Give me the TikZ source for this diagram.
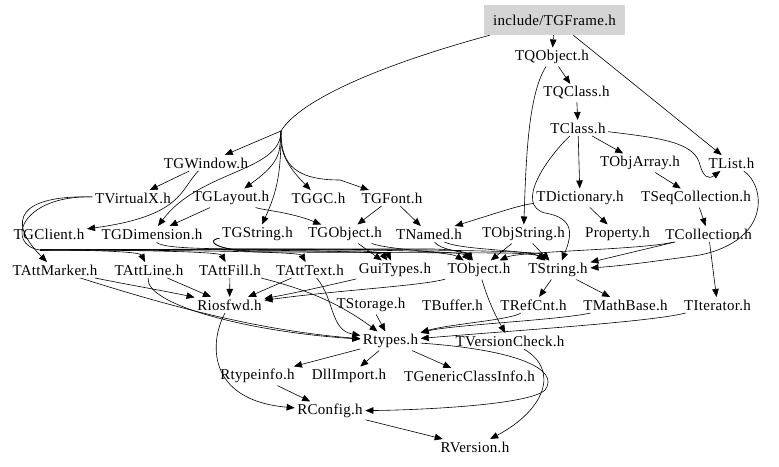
\documentclass[tikz,border=0pt]{standalone}
\usepackage{fontspec}
\setmainfont[LetterSpace=2]{Liberation Serif}
\usetikzlibrary{arrows.meta}

\tikzset{
  hdr/.style={inner sep=2.5pt, font=\fontsize{15}{17}\selectfont},
  mainhdr/.style={hdr, fill=black!17, minimum width=141pt, minimum height=30pt},
  dep/.style={-{Triangle[length=8pt,width=6.5pt]}, line width=0.6pt},
  trunk/.style={line width=0.6pt}
}

\begin{document}
\begin{tikzpicture}[x=1pt, y=-1pt]
\useasboundingbox (0,0) rectangle (779,466);

% Top of the graph
\node[mainhdr] (frame) at (554.5,20) {include/TGFrame.h};
\node[hdr] (qobject) at (552,57) {TQObject.h};
\node[hdr] (qclass) at (576.5,93) {TQClass.h};
\node[hdr] (tclass) at (578,128) {TClass.h};

% Second layer
\node[hdr] (gwindow) at (206,163) {TGWindow.h};
\node[hdr] (objarray) at (640,163) {TObjArray.h};
\node[hdr] (list) at (731.5,163) {TList.h};

\node[hdr] (virtualx) at (133,198) {TVirtualX.h};
\node[hdr] (glayout) at (231,198) {TGLayout.h};
\node[hdr] (ggc) at (318.5,198) {TGGC.h};
\node[hdr] (gfont) at (392,198) {TGFont.h};
\node[hdr] (dictionary) at (580,198) {TDictionary.h};
\node[hdr] (seqcollection) at (696,198) {TSeqCollection.h};

\node[hdr] (gclient) at (49,234) {TGClient.h};
\node[hdr] (gdimension) at (152,234) {TGDimension.h};
\node[hdr] (gstring) at (257.5,234) {TGString.h};
\node[hdr] (gobject) at (345,234) {TGObject.h};
\node[hdr] (named) at (429,234) {TNamed.h};
\node[hdr] (objstring) at (523.5,234) {TObjString.h};
\node[hdr] (property) at (617.5,234) {Property.h};
\node[hdr] (collection) at (708.5,234) {TCollection.h};

% Base classes
\node[hdr] (attmarker) at (55,270) {TAttMarker.h};
\node[hdr] (attline) at (149,270) {TAttLine.h};
\node[hdr] (attfill) at (230,270) {TAttFill.h};
\node[hdr] (atttext) at (310,270) {TAttText.h};
\node[hdr] (guitypes) at (395,270) {GuiTypes.h};
\node[hdr] (object) at (479,270) {TObject.h};
\node[hdr] (string) at (558,270) {TString.h};

\node[hdr] (riosfwd) at (229.5,305) {Riosfwd.h};
\node[hdr] (storage) at (371,305) {TStorage.h};
\node[hdr] (buffer) at (452.5,305) {TBuffer.h};
\node[hdr] (refcnt) at (533.5,305) {TRefCnt.h};
\node[hdr] (mathbase) at (625.5,305) {TMathBase.h};
\node[hdr] (iterator) at (717.5,305) {TIterator.h};

% Core headers
\node[hdr] (rtypes) at (390.5,341) {Rtypes.h};
\node[hdr] (versioncheck) at (510,341) {TVersionCheck.h};
\node[hdr] (rtypeinfo) at (257.5,376) {Rtypeinfo.h};
\node[hdr] (dllimport) at (349,376) {DllImport.h};
\node[hdr] (genericclassinfo) at (469.5,376) {TGenericClassInfo.h};
\node[hdr] (rconfig) at (330,411) {RConfig.h};
\node[hdr] (rversion) at (475,447) {RVersion.h};

% where the edges of TGFrame.h and TVirtualX.h split
\coordinate (framesplit) at (281,131);
\coordinate (xsplit) at (40,250);

% Edges from TGFrame.h
\draw[dep] (frame) -- (qobject);
\draw[dep] (frame) -- (list);
\draw[trunk] ([xshift=6pt]frame.south west) .. controls (380,65) and (300,100) .. (framesplit);
\draw[dep] (framesplit) -- (gwindow);
\draw[dep] (framesplit) .. controls (279,150) and (284,160) .. (glayout);
\draw[dep] (framesplit) .. controls (279,150) and (286,165) .. (ggc);
\draw[dep] (framesplit) .. controls (281,160) and (290,180) .. (340,180) -- (gfont);
\draw[dep] (framesplit) .. controls (281,170) and (278,190) .. (gstring);
\draw[dep] (framesplit) .. controls (281,172) and (200,170) .. (gdimension);

% TGWindow.h and the GUI headers
\draw[dep] (gwindow) -- (virtualx);
\draw[dep] (gwindow) .. controls (180,190) and (182,216) .. (gclient);
\draw[dep] (glayout) -- (gdimension);
\draw[dep] (glayout) .. controls (262,210) and (290,212) .. (gobject);
\draw[dep] (gfont) -- (gobject);
\draw[dep] (gfont) -- (named);
\draw[dep] (gobject) -- (guitypes);
\draw[dep] (gobject) .. controls (390,250) and (450,252) .. (object);
\draw[dep] (gstring) .. controls (205,240) and (215,251) .. (260,251) -- (360,251) .. controls (380,252) and (388,254) .. (guitypes);
\draw[dep] (gstring) .. controls (205,240) and (215,251) .. (260,252) -- (500,253) .. controls (530,253) and (540,256) .. (string);
\draw[dep] (gdimension) .. controls (160,248) and (200,249) .. (260,249) -- (430,249) .. controls (455,249) and (468,253) .. (object);

% TVirtualX.h runs along the left
\draw[dep] (virtualx) .. controls (20,195) and (5,220) .. (attmarker);
\draw[trunk] (virtualx) .. controls (20,195) and (5,245) .. (xsplit);
\draw[dep] (xsplit) .. controls (100,250) and (140,252) .. (attline);
\draw[dep] (xsplit) .. controls (150,250) and (220,252) .. (attfill);
\draw[dep] (xsplit) .. controls (200,250) and (300,252) .. (atttext);
\draw[dep] (xsplit) .. controls (250,249) and (380,251) .. (guitypes);
\draw[dep] (xsplit) .. controls (300,248) and (460,250) .. (object);
\draw[dep] (xsplit) .. controls (350,248) and (540,250) .. (string);

% TQObject.h and TClass.h
\draw[dep] (qobject) -- (qclass);
\draw[dep] (qobject) .. controls (528,95) and (526,160) .. (objstring);
\draw[dep] (qclass) -- (tclass);
\draw[dep] (tclass) -- (objarray);
\draw[dep] (tclass) -- (dictionary);
\draw[dep] (tclass) .. controls (660,138) and (695,142) .. (700,165) .. controls (703,176) and (708,180) .. (list);
\draw[dep] (tclass) .. controls (545,160) and (515,205) .. (545,213) .. controls (575,218) and (572,235) .. (string);
\draw[dep] (dictionary) .. controls (520,205) and (500,212) .. (named);
\draw[dep] (dictionary) -- (property);
\draw[dep] (objarray) -- (seqcollection);
\draw[dep] (seqcollection) -- (collection);
\draw[dep] (list) .. controls (765,185) and (772,240) .. (700,255) .. controls (650,262) and (620,266) .. (string);
\draw[dep] (collection) -- (string);
\draw[dep] (collection) -- (iterator);
\draw[dep] (collection) .. controls (640,250) and (520,251) .. (object);

% Into TObject.h and TString.h
\draw[dep] (named) .. controls (440,250) and (465,252) .. (object);
\draw[dep] (named) .. controls (460,250) and (530,250) .. (string);
\draw[dep] (objstring) -- (object);
\draw[dep] (objstring) -- (string);

% Down to Riosfwd.h and Rtypes.h
\draw[dep] (attmarker) .. controls (130,285) and (170,292) .. (riosfwd);
\draw[dep] (attline) -- (riosfwd);
\draw[dep] (attfill) -- (riosfwd);
\draw[dep] (atttext) -- (riosfwd);
\draw[dep] (guitypes) .. controls (330,285) and (300,292) .. (riosfwd);
\draw[dep] (object) .. controls (420,286) and (340,290) .. (riosfwd);
\draw[dep] (attmarker) .. controls (150,300) and (250,330) .. (rtypes);
\draw[dep] (attline) .. controls (145,305) and (250,332) .. (rtypes);
\draw[dep] (attfill) .. controls (300,288) and (335,300) .. (rtypes);
\draw[dep] (atttext) .. controls (335,300) and (330,330) .. (rtypes);
\draw[dep] (object) .. controls (488,300) and (495,315) .. (versioncheck);
\draw[dep] (string) -- (refcnt);
\draw[dep] (string) -- (mathbase);
\draw[dep] (storage) -- (rtypes);
\draw[dep] (refcnt) .. controls (510,320) and (450,324) .. (rtypes);
\draw[dep] (mathbase) .. controls (560,320) and (450,325) .. (rtypes);
\draw[dep] (iterator) .. controls (650,322) and (520,330) .. (rtypes);

% Bottom of the graph
\draw[dep] (rtypes) -- (rtypeinfo);
\draw[dep] (rtypes) -- (dllimport);
\draw[dep] (rtypes) -- (genericclassinfo);
\draw[dep] (rtypes) .. controls (520,350) and (560,370) .. (545,390) .. controls (530,405) and (420,410) .. (rconfig);
\draw[dep] (riosfwd) .. controls (210,340) and (205,400) .. (rconfig);
\draw[dep] (rtypeinfo) -- (rconfig);
\draw[dep] (rconfig) -- (rversion);
\draw[dep] (versioncheck) .. controls (560,370) and (545,410) .. (rversion);

\end{tikzpicture}
\end{document}
